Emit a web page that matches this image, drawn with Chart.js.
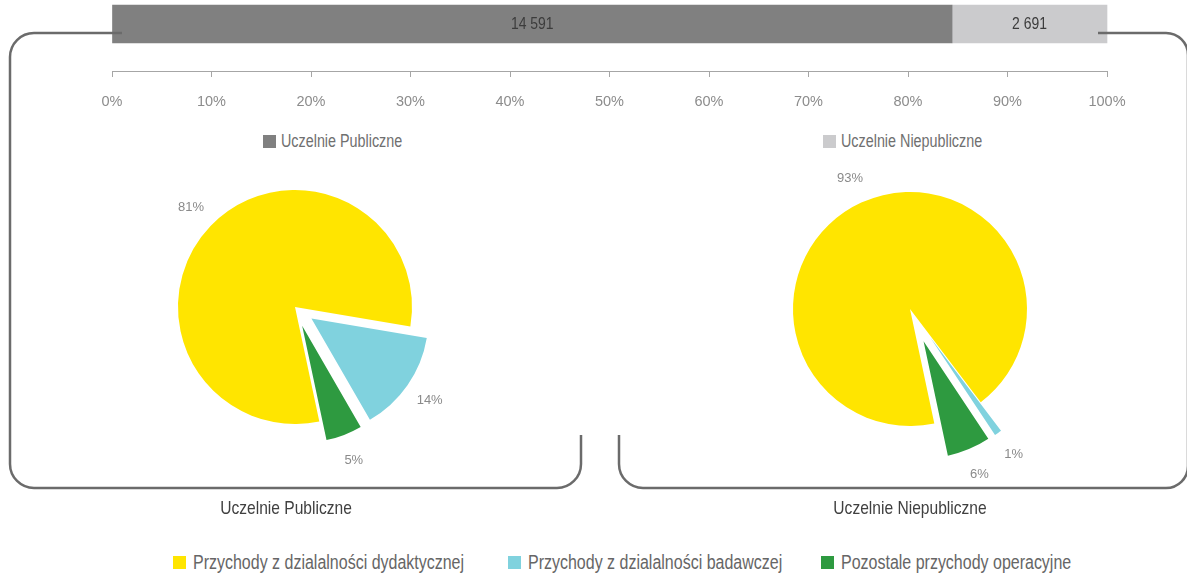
<!DOCTYPE html>
<html>
<head>
<meta charset="utf-8">
<script src="https://cdn.jsdelivr.net/npm/chart.js@4"></script>
<style>
  html, body { margin: 0; padding: 0; background: #fff; }
  body { width: 1187px; height: 573px; position: relative; overflow: hidden;
         font-family: "Liberation Sans", Arial, sans-serif; }
  .box { position: absolute; }
  .legend-item { position: absolute; white-space: nowrap; height: 20px; }
  .legend-item i { position: absolute; left: 0; top: 4px; width: 13px; height: 13px; }
  .legend-item span { position: absolute; top: 0; display: inline-block; transform: scaleX(0.82); transform-origin: 0 50%; line-height: 20px; }
  .caption { position: absolute; width: 300px; text-align: center; font-size: 19px; color: #404040;
             transform: scaleX(0.82); transform-origin: 50% 50%; }
  #brackets { position: absolute; left: 0; top: 0; pointer-events: none; }
</style>
</head>
<body>
<div class="box" style="left:0;top:0;width:1187px;height:115px"><canvas id="barChart"></canvas></div>
<div id="topLegend"></div>
<div class="box" style="left:95px;top:107px;width:400px;height:400px"><canvas id="pieLeft"></canvas></div>
<div class="box" style="left:710px;top:109px;width:400px;height:400px"><canvas id="pieRight"></canvas></div>
<div class="caption" style="left:136px;top:497px">Uczelnie Publiczne</div>
<div class="caption" style="left:760px;top:497px">Uczelnie Niepubliczne</div>
<div id="bottomLegend"></div>
<svg id="brackets" width="1187" height="573">
  <path d="M122 33 H34 A24 24 0 0 0 10 57 V464 A24 24 0 0 0 34 488 H557 A24 24 0 0 0 581 464 V435"
        fill="none" stroke="#6b6b6b" stroke-width="2.5"/>
  <path d="M619 435 V464 A24 24 0 0 0 643 488 H1166 A22 22 0 0 0 1188 466 V55 A22 22 0 0 0 1166 33 H1098"
        fill="none" stroke="#6b6b6b" stroke-width="2.5"/>
</svg>
<script>
const FONT = '"Liberation Sans", Arial, sans-serif';
Chart.defaults.font.family = FONT;

// top bar: number of institutions by type
const groups = ['Uczelnie Publiczne', 'Uczelnie Niepubliczne'];
const groupCounts = [14591, 2691];
const groupColors = ['#808080', '#cbcbcd'];

// pies: revenue structure (%)
const revenueTypes = ['Przychody z dzialalności dydaktycznej', 'Przychody z dzialalności badawczej', 'Pozostale przychody operacyjne'];
const revenueColors = ['#ffe500', '#80d2de', '#2e9a40'];
const publicShares = [81, 14, 5];
const privateShares = [93, 1, 6];

const total = groupCounts.reduce((a, b) => a + b, 0);
const fmt = n => String(n).replace(/\B(?=(\d{3})+(?!\d))/g, ' ');

// value labels in the middle of each bar segment (narrowed text)
const barValues = {
    id: 'barValues',
    afterDatasetsDraw(chart) {
        const ctx = chart.ctx;
        ctx.save();
        ctx.font = '17px ' + FONT;
        ctx.fillStyle = '#3c3c3c';
        ctx.textAlign = 'center';
        ctx.textBaseline = 'middle';
        chart.data.datasets.forEach((ds, i) => {
            const el = chart.getDatasetMeta(i).data[0];
            ctx.save();
            ctx.translate((el.x + el.base) / 2, el.y);
            ctx.scale(0.82, 1);
            ctx.fillText(fmt(groupCounts[i]), 0, 0);
            ctx.restore();
        });
        ctx.restore();
    }
};

new Chart(document.getElementById('barChart'), {
    type: 'bar',
    data: {
        labels: ['Uczelnie', ''],
        datasets: groups.map((g, i) => ({
            label: g,
            data: [groupCounts[i] / total * 100],
            backgroundColor: groupColors[i],
            barThickness: 38,
            clip: false
        }))
    },
    options: {
        indexAxis: 'y',
        responsive: true,
        maintainAspectRatio: false,
        animation: false,
        layout: { padding: { left: 112, right: 80, top: 8.3, bottom: 0 } },
        plugins: { legend: { display: false }, tooltip: { enabled: false } },
        scales: {
            x: {
                stacked: true,
                min: 0,
                max: 100,
                grid: { drawOnChartArea: false, tickLength: 6, color: '#a6a6a6' },
                border: { color: '#a6a6a6' },
                ticks: {
                    stepSize: 10,
                    padding: 16,
                    color: '#8c8c8c',
                    font: { size: 14.5 },
                    maxRotation: 0,
                    callback: v => v + '%'
                },
                afterFit: scale => { scale.height = 44; }
            },
            y: { stacked: true, display: false }
        }
    },
    plugins: [barValues]
});

// top legend
const topLegendPos = [263, 823];
document.getElementById('topLegend').innerHTML = groups.map((g, i) =>
    `<div class="legend-item" style="left:${topLegendPos[i]}px;top:131px;font-size:17.5px;color:#707070">` +
    `<i style="background:${groupColors[i]}"></i><span style="left:18px">${g}</span></div>`).join('');

// slices pulled out from the centre
const explode = {
    id: 'explode',
    beforeDatasetDraw(chart, args) {
        const ctx = chart.ctx;
        const shifts = chart.data.datasets[args.index].explode || [];
        args.meta.data.forEach((arc, i) => {
            const mid = (arc.startAngle + arc.endAngle) / 2;
            const d = shifts[i] || 0;
            ctx.save();
            ctx.translate(Math.cos(mid) * d, Math.sin(mid) * d);
            arc.draw(ctx);
            ctx.restore();
        });
        return false;
    }
};

// percentage labels outside each slice
const pieLabels = {
    id: 'pieLabels',
    afterDatasetsDraw(chart) {
        const ctx = chart.ctx;
        const ds = chart.data.datasets[0];
        const meta = chart.getDatasetMeta(0);
        ctx.save();
        ctx.font = '13px ' + FONT;
        ctx.fillStyle = '#8a8a8a';
        ctx.textAlign = 'center';
        ctx.textBaseline = 'middle';
        meta.data.forEach((arc, i) => {
            const mid = (arc.startAngle + arc.endAngle) / 2;
            const r = arc.outerRadius + (ds.explode[i] || 0) + 27;
            ctx.fillText(ds.data[i] + '%', arc.x + Math.cos(mid) * r, arc.y + Math.sin(mid) * r);
        });
        ctx.restore();
    }
};

function makePie(id, shares, pulled) {
    return new Chart(document.getElementById(id), {
        type: 'pie',
        data: {
            labels: revenueTypes,
            datasets: [{
                data: shares,
                backgroundColor: revenueColors,
                borderWidth: 0,
                explode: pulled
            }]
        },
        options: {
            responsive: true,
            maintainAspectRatio: false,
            animation: false,
            radius: 117,
            rotation: 168,
            plugins: { legend: { display: false }, tooltip: { enabled: false } }
        },
        plugins: [explode, pieLabels]
    });
}
makePie('pieLeft', publicShares, [0, 20, 20]);
makePie('pieRight', privateShares, [0, 35, 35]);

// bottom legend
const bottomLegendPos = [173, 508, 821];
document.getElementById('bottomLegend').innerHTML = revenueTypes.map((t, i) =>
    `<div class="legend-item" style="left:${bottomLegendPos[i]}px;top:552px;font-size:19.5px;color:#666">` +
    `<i style="background:${revenueColors[i]}"></i><span style="left:20px">${t}</span></div>`).join('');
</script>
</body>
</html>
